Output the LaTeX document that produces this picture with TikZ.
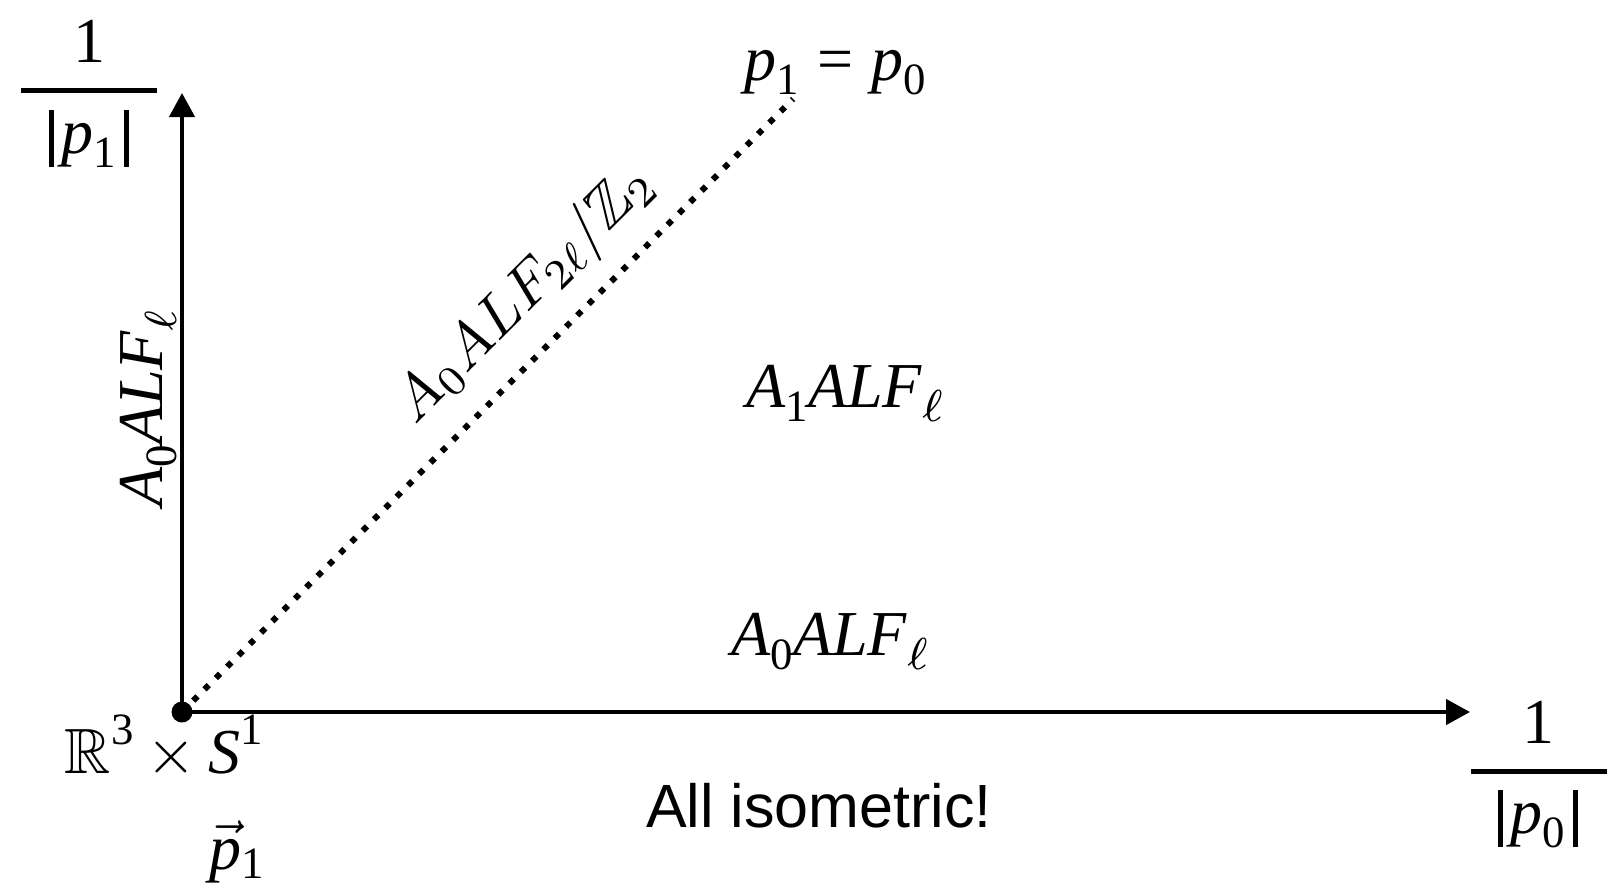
\documentclass[tikz,border=0pt]{standalone}
\usepackage{amssymb}
\usepackage{fontspec}
\newfontfamily\tms{Liberation Serif}[NFSSFamily=tms]
\newfontfamily\hlv{Liberation Sans}
\DeclareMathAlphabet{\mti}{TU}{tms}{m}{it}
\DeclareMathAlphabet{\mtr}{TU}{tms}{m}{n}
\usetikzlibrary{arrows.meta}
\newcommand\sbx[1]{\raisebox{-0.23em}{\fontsize{7}{8}\selectfont #1}}
\newcommand\spx[1]{\raisebox{0.45em}{\fontsize{7}{8}\selectfont #1}}
\newcommand\vbar{\rule[-0.22em]{0.08em}{0.89em}}
\tikzset{
  lab/.style={inner sep=0pt, scale=6.4, font=\fontsize{10}{12}\selectfont\tms},
  axis/.style={line width=4.5pt, -{Triangle[length=24pt,width=25pt]}},
  dotline/.style={line width=6pt, dash pattern=on 6pt off 10pt},
  fracbar/.style={line width=5pt},
}
\begin{document}
\begin{tikzpicture}[x=1pt,y=-1pt]
\useasboundingbox (0,0) rectangle (1613,892);
% axes
\node[circle, fill=black, minimum size=21pt, inner sep=0pt] (O) at (182,712) {};
\coordinate (Y) at (182,93);
\coordinate (X) at (1470,712);
\coordinate (D) at (793,99);
\draw[dotline] (O.center) -- (D);
\draw[axis] (O.center) -- (Y);
\draw[axis] (O.center) -- (X);
% y-axis fraction
\node[lab, anchor=base] (n1) at (89,62) {1};
\coordinate (b1l) at (21,90.5);
\coordinate (b1r) at (157,90.5);
\draw[fracbar] (b1l) -- (b1r);
\node[lab, anchor=base] (d1) at (89,153) {\vbar\hspace{0.12em}\textit{p}\sbx{1}\hspace{0.12em}\vbar};
% x-axis fraction
\node[lab, anchor=base] (n0) at (1538,743) {1};
\coordinate (b0l) at (1471,771);
\coordinate (b0r) at (1607,771);
\draw[fracbar] (b0l) -- (b0r);
\node[lab, anchor=base] (d0) at (1538,833) {\vbar\hspace{0.12em}\textit{p}\sbx{0}\hspace{0.12em}\vbar};
% labels
\node[lab, anchor=base] (peq) at (835,80) {\itshape p\sbx{\upshape 1}\hspace{0.3em}\upshape=\hspace{0.28em}\itshape p\sbx{\upshape 0}};
\node[lab, anchor=base] (a1) at (845,407) {\itshape A\sbx{\upshape 1}ALF\sbx{$\ell$}};
\node[lab, anchor=base] (a0) at (830,655) {\itshape A\sbx{\upshape 0}ALF\sbx{$\ell$}};
\node[lab, anchor=base, rotate=90] (a0v) at (162,408) {\itshape A\sbx{\upshape 0}ALF\sbx{$\ell$}};
\node[lab, anchor=base] (r3) at (164,773) {$\mathbb{R}$\spx{3}\hspace{0.2em}$\times$\hspace{0.2em}\textit{S}\spx{1}};
\node[lab, anchor=base] (pv) at (238,869) {$\vec{\mti{p}}_{\mtr{1}}$};
\node[inner sep=0pt, scale=6.1, font=\fontsize{10}{12}\selectfont\hlv, anchor=base] (iso) at (819,827) {All isometric!};
\node[inner sep=0pt, scale=6.0, font=\fontsize{10}{12}\selectfont, anchor=base, rotate=45] (diag) at (536,305) {$A_0ALF_{2\ell}/\mathbb{Z}_2$};
\end{tikzpicture}
\end{document}
